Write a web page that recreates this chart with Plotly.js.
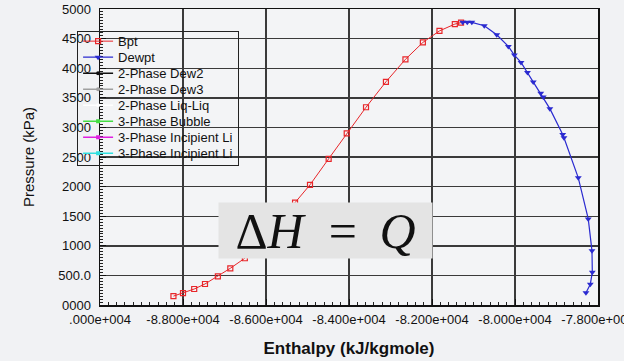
<!DOCTYPE html>
<html>
<head>
<meta charset="utf-8">
<script src="https://cdn.plot.ly/plotly-3.0.1.min.js"></script>
<style>html,body{margin:0;padding:0;background:#f1f2f4;}#chart{width:624px;height:361px;}</style>
</head>
<body>
<div id="chart"></div>
<script>
// Bubble point curve (Bpt)
const bptEnthalpy = [-88230, -88000, -87730, -87470, -87160, -86860, -86510, -86100, -85690, -85300,
                     -84940, -84490, -84055, -83590, -83110, -82640, -82220, -81820, -81450, -81300];
const bptPressure = [150, 200, 270, 355, 485, 620, 790, 1120, 1440, 1730,
                     2030, 2470, 2900, 3340, 3770, 4150, 4435, 4630, 4745, 4770];
// Dew point curve (Dewpt)
const dewEnthalpy = [-81260, -81150, -81040, -80740, -80440, -80160, -80015, -79855, -79700, -79560,
                     -79380, -79320, -79160, -78850, -78820, -78475, -78235, -78145, -78137, -78185, -78290];
const dewPressure = [4775, 4775, 4775, 4717, 4565, 4368, 4221, 4097, 3927, 3768,
                     3576, 3513, 3317, 2882, 2826, 2148, 1453, 915, 554, 351, 208];

const legendNames = ["Bpt", "Dewpt", "2-Phase Dew2", "2-Phase Dew3", "2-Phase Liq-Liq",
                     "3-Phase Bubble", "3-Phase Incipient Li", "3-Phase Incipient Li"];
const seriesColors = ["#e8262a", "#2a2ad0", "#111111", "#a0a0a0", "#ffffff", "#44dd44", "#e020e0", "#30e0e0"];

const yTickVals = [0, 500, 1000, 1500, 2000, 2500, 3000, 3500, 4000, 4500, 5000];
const yTickText = ["0000", "500.0", "1000", "1500", "2000", "2500", "3000", "3500", "4000", "4500", "5000"];
const xTickVals = [-90000, -88000, -86000, -84000, -82000, -80000, -78000];
const xTickText = [".000e+004", "-8.800e+004", "-8.600e+004", "-8.400e+004", "-8.200e+004", "-8.000e+004", "-7.800e+004"];

const traces = [
  {x: bptEnthalpy, y: bptPressure, name: legendNames[0], type: "scatter", mode: "lines+markers",
   line: {color: seriesColors[0], width: 1},
   marker: {symbol: "square-open", size: 5, color: seriesColors[0], line: {width: 1.2}}},
  {x: dewEnthalpy, y: dewPressure, name: legendNames[1], type: "scatter", mode: "lines+markers",
   line: {color: seriesColors[1], width: 1.2},
   marker: {symbol: "triangle-down", size: 6, color: seriesColors[1]}}
];
const emptySymbols = ["circle", "circle", "circle", "square", "square", "square"];
for (let i = 2; i < legendNames.length; i++) {
  traces.push({x: [null], y: [null], name: legendNames[i], type: "scatter", mode: "lines+markers",
    showlegend: true,
    line: {color: seriesColors[i], width: 1.5},
    marker: {symbol: emptySymbols[i - 2], size: 4, color: seriesColors[i]}});
}

const layout = {
  width: 624, height: 361,
  margin: {l: 100, r: 26, t: 9, b: 56},
  paper_bgcolor: "#f1f2f4",
  plot_bgcolor: "#f3f4f6",
  font: {family: "Liberation Sans, Arial, sans-serif", size: 13, color: "#111"},
  showlegend: true,
  legend: {x: -0.046, y: 0.925, xanchor: "left", yanchor: "top",
           bgcolor: "rgba(0,0,0,0)", bordercolor: "#222", borderwidth: 1,
           font: {size: 13, color: "#111"}, tracegroupgap: 0},
  xaxis: {
    range: [-90000, -78000], tickmode: "array", tickvals: xTickVals, ticktext: xTickText,
    ticklabeloverflow: "allow", ticklabelstandoff: 2,
    showgrid: true, gridcolor: "#3a3a3a", gridwidth: 1.4,
    showline: true, linecolor: "#111", linewidth: 1.5, mirror: true,
    ticks: "inside", ticklen: 6, tickcolor: "#111", zeroline: false,
    minor: {dtick: 200, ticks: "inside", ticklen: 3, tickcolor: "#222", showgrid: false},
    tickfont: {size: 13, color: "#111"},
    title: {text: "Enthalpy (kJ/kgmole)", font: {size: 17, color: "#111", weight: "bold"}, standoff: 16}
  },
  yaxis: {
    range: [0, 5000], tickmode: "array", tickvals: yTickVals, ticktext: yTickText,
    ticklabeloverflow: "allow", ticklabelstandoff: 5,
    showgrid: true, gridcolor: "#3a3a3a", gridwidth: 1.4,
    showline: true, linecolor: "#111", linewidth: 1.5, mirror: true,
    ticks: "inside", ticklen: 6, tickcolor: "#111", zeroline: false,
    minor: {dtick: 50, ticks: "inside", ticklen: 3, tickcolor: "#222", showgrid: false},
    tickfont: {size: 13, color: "#111"},
    title: {text: "Pressure (kPa)", font: {size: 15, color: "#111"}, standoff: 20}
  },
  annotations: [{
    xref: "paper", yref: "paper", x: 0.4528, y: 0.2525, xanchor: "center", yanchor: "middle",
    showarrow: false, width: 213, height: 55, borderpad: 0, bgcolor: "#e4e4e4",
    text: "Δ<i>H</i>\u00a0\u00a0=\u00a0\u2009<i>Q</i>",
    font: {family: "Liberation Serif, Times New Roman, serif", size: 50, color: "#111"}
  }]
};

Plotly.newPlot("chart", traces, layout, {displayModeBar: false, staticPlot: true}).then(function (gd) {
  // tighten legend row spacing to match the reference (16px per row)
  const leg = gd.querySelector("g.legend");
  if (!leg) return;
  const items = Array.from(leg.querySelectorAll("g.traces"));
  if (items.length < 2) return;
  const re = /translate\(\s*([-\d.]+)[ ,]+([-\d.]+)\s*\)/;
  const pos = items.map(function (g) {
    const m = (g.getAttribute("transform") || "").match(re);
    return m ? [parseFloat(m[1]), parseFloat(m[2])] : null;
  });
  if (pos.some(function (p) { return !p; })) return;
  const step = 16, shift = -6;
  const oldLast = pos[pos.length - 1][1];
  items.forEach(function (g, i) {
    g.setAttribute("transform", "translate(" + pos[i][0] + "," + (pos[0][1] + shift + i * step) + ")");
  });
  const newLast = pos[0][1] + shift + (items.length - 1) * step;
  const bg = leg.querySelector("rect.bg");
  if (bg) {
    const h = parseFloat(bg.getAttribute("height"));
    bg.setAttribute("height", h - (oldLast - newLast) + shift + 2);
  }
});
</script>
</body>
</html>
